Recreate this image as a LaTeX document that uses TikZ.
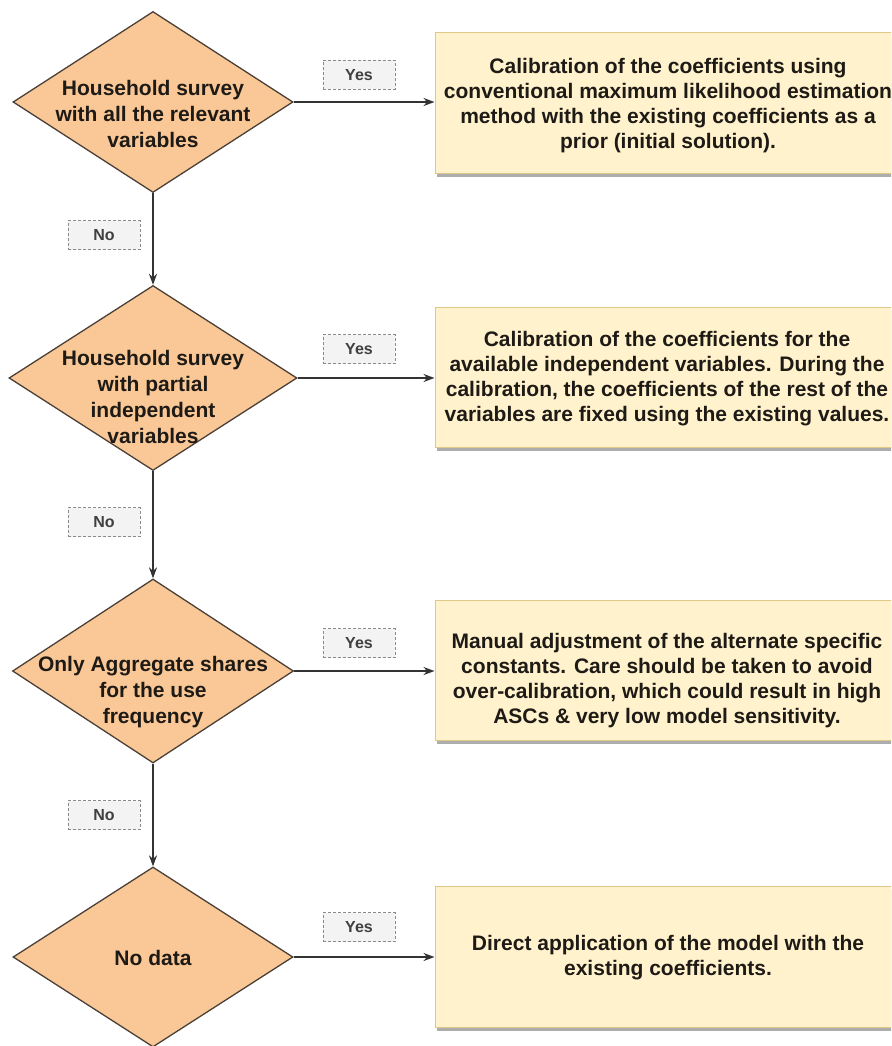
\documentclass[tikz,border=0pt]{standalone}
\usepackage{fontspec}
\setmainfont{Liberation Sans}
\usetikzlibrary{shapes.geometric,shadows,arrows.meta}

\definecolor{decfill}{HTML}{FAC896}
\definecolor{decline}{HTML}{4A4038}
\definecolor{actfill}{HTML}{FFF2CC}
\definecolor{actline}{HTML}{DDC888}
\definecolor{tagfill}{HTML}{F3F3F3}
\definecolor{tagline}{HTML}{8A8A8A}
\definecolor{flow}{HTML}{333333}
\definecolor{ink}{HTML}{1E1A16}

\tikzset{
  decision/.style={diamond, draw=decline, line width=1.3pt, fill=decfill,
    inner sep=0pt, minimum width=280pt, minimum height=181pt},
  dectext/.style={align=center, inner sep=0pt, text=ink, font=\bfseries\fontsize{21}{26}\selectfont},
  action/.style={rectangle, draw=actline, line width=1pt, fill=actfill,
    minimum width=466pt, minimum height=140pt, inner sep=0pt,
    drop shadow={shadow xshift=2pt, shadow yshift=-4pt, fill=black!40, opacity=0.8}},
  acttext/.style={align=center, inner sep=0pt, text=ink, font=\bfseries\fontsize{21}{25}\selectfont},
  tag/.style={rectangle, draw=tagline, dash pattern=on 3pt off 2pt, line width=1pt,
    fill=tagfill, minimum width=72pt, minimum height=29pt, inner sep=0pt,
    text=black!75, font=\bfseries\fontsize{16}{19}\selectfont},
  link/.style={draw=flow, line width=1.8pt, -{Stealth[length=11pt,width=8pt]}}
}

\begin{document}
\begin{tikzpicture}[x=1pt, y=-1pt]
  \useasboundingbox (0,0) rectangle (891,1046);
  \clip (0,0) rectangle (891,1046);
  \fill[white] (0,0) rectangle (891,1046);

  % decisions
  \node[decision] (d1) at (153,102) {};
  \node[decision, minimum width=288pt, minimum height=185pt] (d2) at (153,378) {};
  \node[decision, minimum width=281pt, minimum height=184pt] (d3) at (153,671) {};
  \node[decision, minimum width=280pt, minimum height=180pt] (d4) at (153,957) {};

  \node[dectext] (d1t) at (153,114) {Household survey\\with all the relevant\\variables};
  \node[dectext] (d2t) at (153,397) {Household survey\\with partial\\independent\\variables};
  \node[dectext] (d3t) at (153,692) {Only Aggregate shares\\for the use\\frequency};
  \node[dectext] (d4t) at (153,958) {No data};

  % outcomes
  \node[action] (b1) at (668,103) {};
  \node[action] (b2) at (668,377) {};
  \node[action] (b3) at (668,670) {};
  \node[action, minimum height=141pt] (b4) at (668,956.5) {};

  \node[acttext] (b1t) at (668,106) {Calibration of the coefficients using\\conventional maximum likelihood estimation\\method with the existing coefficients as a\\prior (initial solution).};
  \node[acttext] (b2t) at (667,379) {Calibration of the coefficients for the\\available independent variables. During the\\calibration, the coefficients of the rest of the\\variables are fixed using the existing values.};
  \node[acttext] (b3t) at (667,681) {Manual adjustment of the alternate specific\\constants. Care should be taken to avoid\\over-calibration, which could result in high\\ASCs \& very low model sensitivity.};
  \node[acttext] (b4t) at (668,958) {Direct application of the model with the\\existing coefficients.};

  % connectors
  \draw[link] (d1.east) -- (d1.east -| b1.west);
  \draw[link] (d2.east) -- (d2.east -| b2.west);
  \draw[link] (d3.east) -- (d3.east -| b3.west);
  \draw[link] (d4.east) -- (d4.east -| b4.west);
  \draw[link] (d1.south) -- (d2.north);
  \draw[link] (d2.south) -- (d3.north);
  \draw[link] (d3.south) -- (d4.north);

  % branch labels
  \node[tag] (y1) at (359,75) {Yes};
  \node[tag] (y2) at (359,349) {Yes};
  \node[tag] (y3) at (359,643) {Yes};
  \node[tag] (y4) at (359,927) {Yes};
  \node[tag] (n1) at (104,235) {No};
  \node[tag] (n2) at (104,522) {No};
  \node[tag] (n3) at (104,815) {No};
\end{tikzpicture}
\end{document}
